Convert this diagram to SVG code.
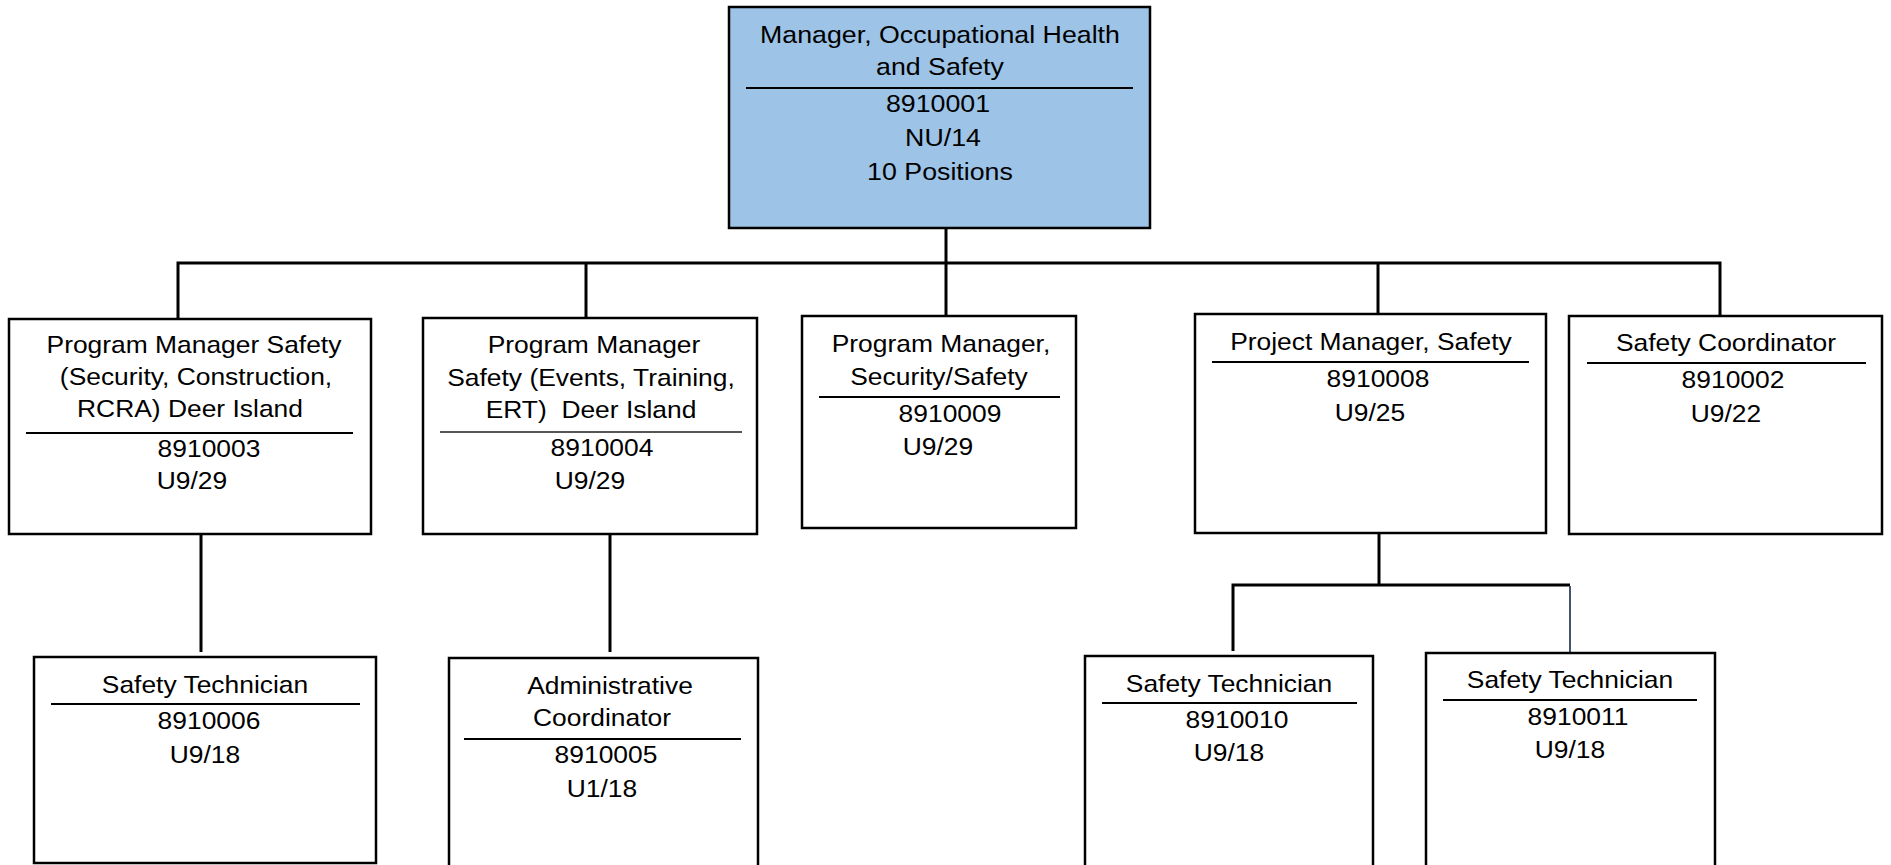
<svg xmlns="http://www.w3.org/2000/svg" width="1891" height="865" viewBox="0 0 1891 865">
<style>
.box{fill:#fff;stroke:#000;stroke-width:2.5}
.top{fill:#9DC3E6}
.dv{stroke:#000;stroke-width:2}
.dvg{stroke:#555;stroke-width:2}
.t{font-family:"Liberation Sans",Arial,sans-serif;font-size:24px;text-anchor:middle;fill:#000;transform-box:fill-box;transform-origin:center;transform:scaleX(1.1)}
.t1{transform:scaleX(1.115)}
.pre{white-space:pre}
.c{stroke:#000;stroke-width:3;fill:none}
.cg{stroke:#44546A;stroke-width:2;fill:none}
</style>
<rect width="1891" height="865" fill="#fff"/>
<g id="connectors">
<path class="c" d="M946 228V316"/>
<path class="c" d="M178 319V263H1720V316"/>
<path class="c" d="M586 263V318"/>
<path class="c" d="M1378 263V314"/>
<path class="c" d="M201 534V652"/>
<path class="c" d="M610 534V652"/>
<path class="c" d="M1379 533V585"/>
<path class="c" d="M1233 651V585H1570"/>
<path class="cg" d="M1570 586V653"/>
</g>
<g id="n8910001">
<rect class="box top" x="729" y="7" width="421" height="221"/>
<text class="t t1" x="940" y="43">Manager, Occupational Health</text>
<text class="t t1" x="940" y="75">and Safety</text>
<line class="dv" x1="746" y1="88" x2="1133" y2="88"/>
<text class="t t1" x="938" y="112">8910001</text>
<text class="t t1" x="943" y="146">NU/14</text>
<text class="t t1" x="940" y="180">10 Positions</text>
</g>
<g id="n8910003">
<rect class="box" x="9" y="319" width="362" height="215"/>
<text class="t" x="194" y="353">Program Manager Safety</text>
<text class="t" x="196" y="385">(Security, Construction,</text>
<text class="t" x="190" y="417">RCRA) Deer Island</text>
<line class="dv" x1="26" y1="433" x2="353" y2="433"/>
<text class="t" x="209" y="457">8910003</text>
<text class="t" x="192" y="489">U9/29</text>
</g>
<g id="n8910004">
<rect class="box" x="423" y="318" width="334" height="216"/>
<text class="t" x="594" y="353">Program Manager</text>
<text class="t" x="591" y="386">Safety (Events, Training,</text>
<text class="t pre" x="591" y="418">ERT)  Deer Island</text>
<line class="dvg" x1="440" y1="432" x2="742" y2="432"/>
<text class="t" x="602" y="456">8910004</text>
<text class="t" x="590" y="489">U9/29</text>
</g>
<g id="n8910009">
<rect class="box" x="802" y="316" width="274" height="212"/>
<text class="t" x="941" y="352">Program Manager,</text>
<text class="t" x="939" y="385">Security/Safety</text>
<line class="dv" x1="819" y1="397" x2="1060" y2="397"/>
<text class="t" x="950" y="422">8910009</text>
<text class="t" x="938" y="455">U9/29</text>
</g>
<g id="n8910008">
<rect class="box" x="1195" y="314" width="351" height="219"/>
<text class="t" x="1371" y="350">Project Manager, Safety</text>
<line class="dv" x1="1212" y1="362" x2="1529" y2="362"/>
<text class="t" x="1378" y="387">8910008</text>
<text class="t" x="1370" y="421">U9/25</text>
</g>
<g id="n8910002">
<rect class="box" x="1569" y="316" width="313" height="218"/>
<text class="t" x="1726" y="351">Safety Coordinator</text>
<line class="dv" x1="1587" y1="363" x2="1866" y2="363"/>
<text class="t" x="1733" y="388">8910002</text>
<text class="t" x="1726" y="422">U9/22</text>
</g>
<g id="n8910006">
<rect class="box" x="34" y="657" width="342" height="206"/>
<text class="t" x="205" y="693">Safety Technician</text>
<line class="dv" x1="51" y1="704" x2="360" y2="704"/>
<text class="t" x="209" y="729">8910006</text>
<text class="t" x="205" y="763">U9/18</text>
</g>
<g id="n8910005">
<rect class="box" x="449" y="658" width="309" height="215"/>
<text class="t" x="610" y="694">Administrative</text>
<text class="t" x="602" y="726">Coordinator</text>
<line class="dv" x1="464" y1="739" x2="741" y2="739"/>
<text class="t" x="606" y="763">8910005</text>
<text class="t" x="602" y="797">U1/18</text>
</g>
<g id="n8910010">
<rect class="box" x="1085" y="656" width="288" height="217"/>
<text class="t" x="1229" y="692">Safety Technician</text>
<line class="dv" x1="1102" y1="703" x2="1357" y2="703"/>
<text class="t" x="1237" y="728">8910010</text>
<text class="t" x="1229" y="761">U9/18</text>
</g>
<g id="n8910011">
<rect class="box" x="1426" y="653" width="289" height="220"/>
<text class="t" x="1570" y="688">Safety Technician</text>
<line class="dv" x1="1443" y1="700" x2="1697" y2="700"/>
<text class="t" x="1578" y="725">8910011</text>
<text class="t" x="1570" y="758">U9/18</text>
</g>
</svg>
